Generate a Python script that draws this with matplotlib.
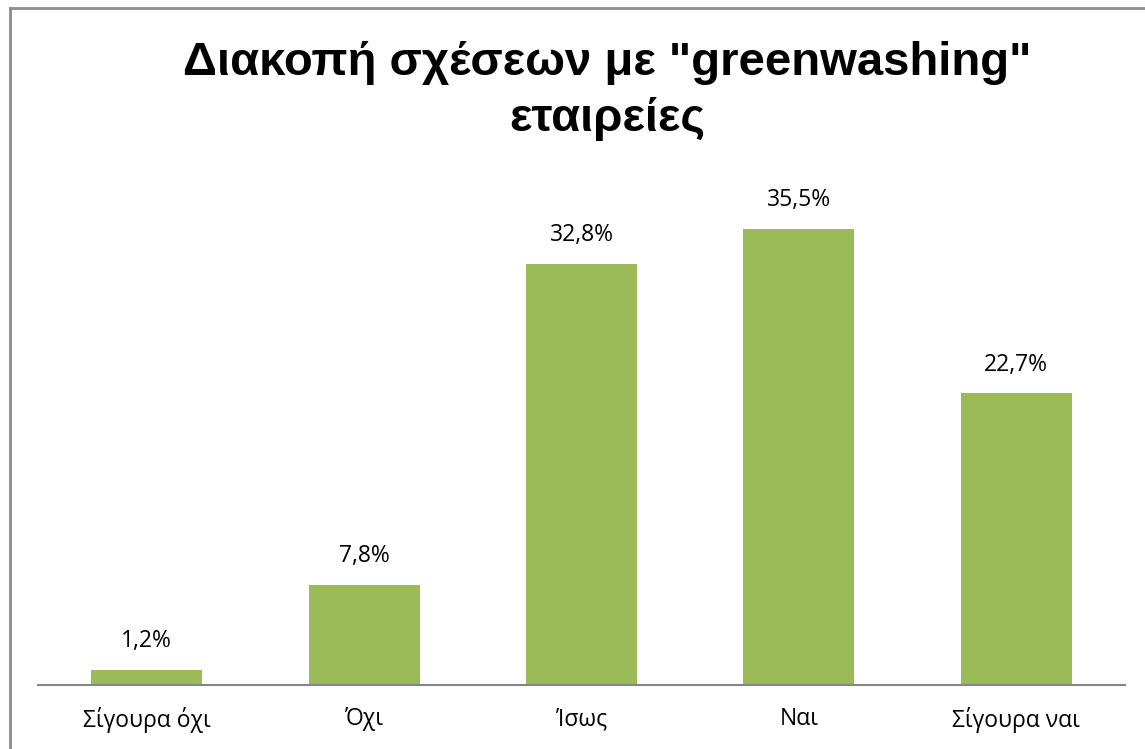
import matplotlib
matplotlib.use("Agg")
import matplotlib.pyplot as plt
from matplotlib.lines import Line2D

categories = ["Σίγουρα όχι", "Όχι", "Ίσως", "Ναι", "Σίγουρα ναι"]
values = [1.2, 7.8, 32.8, 35.5, 22.7]
value_labels = ["1,2%", "7,8%", "32,8%", "35,5%", "22,7%"]
title = 'Διακοπή σχέσεων με "greenwashing"\nεταιρείες'

W, H = 1145, 749
fig = plt.figure(figsize=(W / 100, H / 100), dpi=100)
fig.patch.set_facecolor("white")

# plot area in pixel units
left, right, bottom, top = 38, 1125, 749 - 685, 749 - 171
ax = fig.add_axes([left / W, bottom / H, (right - left) / W, (top - bottom) / H])
ax.set_xlim(-0.5, len(categories) - 0.5)
ax.set_ylim(0, 40)

x = range(len(categories))
ax.bar(x, values, width=0.51, color="#9BBB59", zorder=2)

for xi, v, lab in zip(x, values, value_labels):
    ax.annotate(lab, (xi, v), xytext=(0, 12), textcoords="offset points",
                ha="center", va="bottom", fontsize=16.5, family="Open Sans",
                color="black")

for s in ["left", "right", "top"]:
    ax.spines[s].set_visible(False)
ax.spines["bottom"].set_color("#868686")
ax.spines["bottom"].set_linewidth(1.5)
ax.set_yticks([])
ax.set_xticks(list(x))
ax.set_xticklabels(categories, fontsize=16.5, family="Open Sans")
ax.tick_params(axis="x", length=0, pad=16)

fig.text(607 / W, 1 - 91 / H, title, ha="center", va="center",
         fontsize=34, fontweight="bold", family="Liberation Sans",
         linespacing=1.33)

# chart frame (left and top edges)
fig.add_artist(Line2D([9.5 / W, 9.5 / W], [0, 1 - 7.5 / H], transform=fig.transFigure,
                      color="#8C8C8C", lw=2))
fig.add_artist(Line2D([9.5 / W, 1], [1 - 7.5 / H, 1 - 7.5 / H], transform=fig.transFigure,
                      color="#8C8C8C", lw=2))

fig.savefig("out.png", dpi=100)
